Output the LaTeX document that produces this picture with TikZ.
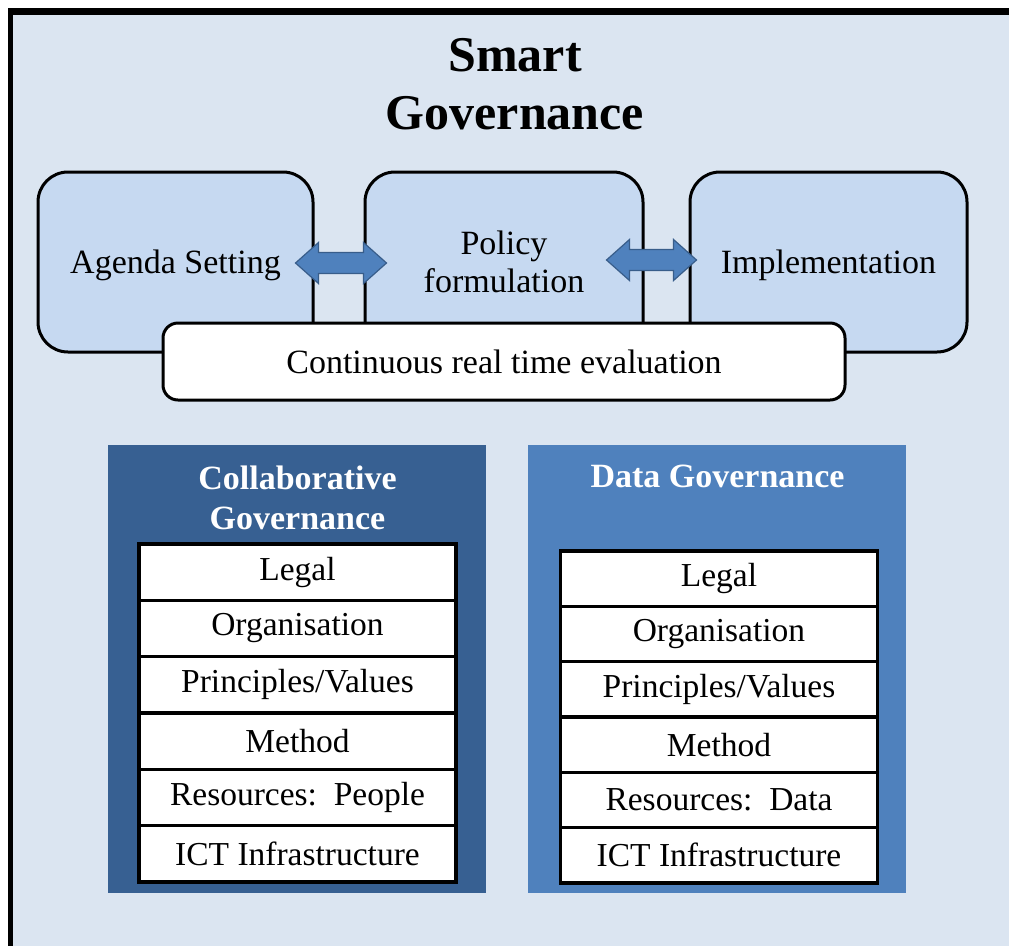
\documentclass[tikz,border=0pt]{standalone}
\usepackage{fontspec}
\setmainfont{Liberation Serif}
\usetikzlibrary{calc}
\definecolor{bgblue}{HTML}{DBE5F1}
\definecolor{boxblue}{HTML}{C6D9F1}
\definecolor{darkblue}{HTML}{376092}
\definecolor{midblue}{HTML}{4F81BD}
\definecolor{arrowedge}{HTML}{385D8A}
\newcommand{\fatarrow}[2]{%
  \draw[blockarrow] (#1) -- ($(#1)+(23,-20.5)$) -- ($(#1)+(23,-10.5)$) -- ($(#2)+(-23,-10.5)$) -- ($(#2)+(-23,-20.5)$) -- (#2)
    -- ($(#2)+(-23,20.5)$) -- ($(#2)+(-23,10.5)$) -- ($(#1)+(23,10.5)$) -- ($(#1)+(23,20.5)$) -- cycle;}
\begin{document}
\begin{tikzpicture}[x=1pt,y=-1pt,
  stage/.style={draw=black, line width=3pt, fill=boxblue, rounded corners=30pt,
    minimum height=180pt, inner sep=0pt, align=center, font=\fontsize{34}{38}\selectfont},
  oneline/.style={text height=23pt, text depth=0pt},
  evalbox/.style={draw=black, line width=3pt, fill=white, rounded corners=15pt,
    minimum width=682pt, minimum height=77pt, inner sep=0pt, text height=23pt, text depth=0pt,
    font=\fontsize{34}{38}\selectfont},
  panel/.style={minimum width=378pt, minimum height=448pt, inner sep=0pt},
  paneltitle/.style={text=white, inner sep=0pt, font=\fontsize{34}{40}\bfseries\selectfont, align=center},
  layer/.style={draw=black, line width=3.5pt, fill=white, minimum width=317pt, inner sep=0pt,
    font=\fontsize{33.5}{38}\selectfont},
  blockarrow/.style={fill=midblue, draw=arrowedge, line width=1.2pt, line join=miter}
]
\useasboundingbox (0,0) rectangle (1009,946);
\fill[white] (0,0) rectangle (1009,946);
\fill[black] (8,8) rectangle (1009,946);
\fill[bgblue] (13,15) rectangle (1009,946);

% title
\node[inner sep=0pt, align=center, font=\fontsize{50}{58}\bfseries\selectfont] (title) at (515,84) {Smart\\Governance};

% policy cycle
\node[stage, oneline, minimum width=275pt] (agenda) at (175.5,262) {Agenda\ Setting};
\node[stage, minimum width=278pt] (policy) at (504,262) {Policy\\formulation};
\node[stage, oneline, minimum width=277pt] (impl) at (828.5,262) {Implementation};
\node[evalbox] (eval) at (504,361.5) {Continuous real time evaluation};

\coordinate (a1l) at ($(agenda.east)+(-19,1)$);
\coordinate (a1r) at ($(policy.west)+(23,1)$);
\coordinate (a2l) at ($(policy.east)+(-38,-2)$);
\coordinate (a2r) at ($(impl.west)+(8,-2)$);
\fatarrow{a1l}{a1r}
\fatarrow{a2l}{a2r}

% panels
\node[panel, fill=darkblue] (collab) at (297,669) {};
\node[panel, fill=midblue] (datagov) at (717,669) {};
\node[paneltitle] (collabtitle) at (297.5,498) {Collaborative\\Governance};
\node[paneltitle] (datatitle) at (717.5,476) {Data Governance};

\foreach \t [count=\i] in {Legal, Organisation, Principles/Values, Method, Resources:\ \ People, ICT Infrastructure}
  \node[layer, minimum height=56.33pt] (c\i) at (297.5,{544+(\i-0.5)*56.33}) {\t};
\foreach \t [count=\i] in {Legal, Organisation, Principles/Values, Method, Resources:\ \ Data, ICT Infrastructure}
  \node[layer, minimum height=55.33pt] (d\i) at (719,{551+(\i-0.5)*55.33}) {\t};
\end{tikzpicture}
\end{document}
